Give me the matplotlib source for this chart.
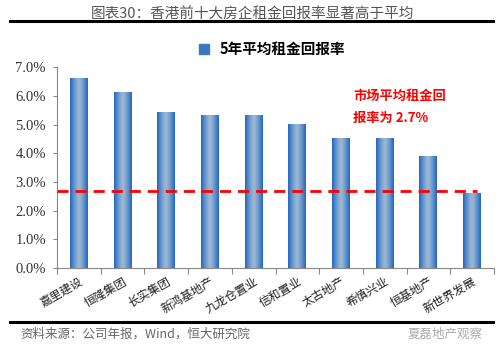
import numpy as np
import matplotlib
matplotlib.use("Agg")
from matplotlib import pyplot as plt
from matplotlib.lines import Line2D

plt.rcParams['font.family'] = ['Noto Sans CJK SC', 'DejaVu Sans']

# 数据
companies = ["嘉里建设", "恒隆集团", "长实集团", "新鸿基地产", "九龙仓置业",
             "信和置业", "太古地产", "希慎兴业", "恒基地产", "新世界发展"]
rent_yield = [6.6, 6.1, 5.4, 5.3, 5.3, 5.0, 4.5, 4.5, 3.9, 2.6]
market_avg = 2.7
yticks = [0, 1, 2, 3, 4, 5, 6, 7]

fig = plt.figure(figsize=(5, 3.55), dpi=100)
ax = fig.add_axes([0.114, 0.245, 0.874, 0.566])

x = np.arange(len(companies))
bars = ax.bar(x, rent_yield, width=0.41, color="#2e6fc0", zorder=2)

# 柱子渐变效果
grad = np.abs(np.linspace(-1, 1, 64)) ** 1.3
grad = grad.reshape(1, -1)
cmap = matplotlib.colors.LinearSegmentedColormap.from_list("g", ["#9bb8d3", "#1f66c4"])
for b in bars:
    x0, y0 = b.get_x(), b.get_y()
    w, h = b.get_width(), b.get_height()
    ax.imshow(grad, cmap=cmap, aspect="auto", extent=(x0, x0 + w, y0, y0 + h),
              zorder=3, interpolation="bicubic")

# 市场平均线
ax.plot([-0.5, 9.1], [market_avg, market_avg], color="#ff0000", lw=2,
        ls=(0, (4, 2.5)), zorder=4)
ax.text(6.28, 5.6, "市场平均租金回\n报率为 2.7%", color="#ff0000", fontsize=9.5,
        fontweight="bold", linespacing=1.75, va="center", ha="left",
        family=['Noto Sans CJK SC', 'Liberation Serif'])

ax.set_xlim(-0.5, len(companies) - 0.5)
ax.set_ylim(0, 7)
ax.set_yticks(yticks)
ax.set_yticklabels([f"{v:.1f}%" for v in yticks], family="Liberation Serif",
                   fontsize=10.5, color="#333333")
ax.set_xticks(np.arange(len(companies) + 1) - 0.5)
ax.set_xticklabels([])
ax.set_xticks(x, minor=True)
ax.set_xticklabels(companies, minor=True, rotation=30, ha="right",
                   rotation_mode="anchor", fontsize=8.5, color="#222222")
ax.tick_params(axis="x", which="minor", length=0, pad=5)
ax.tick_params(axis="x", which="major", length=4, direction="out", color="#888888")
ax.tick_params(axis="y", length=3, direction="out", color="#888888", pad=5)
for s in ["top", "right"]:
    ax.spines[s].set_visible(False)
ax.spines["left"].set_color("#888888")
ax.spines["bottom"].set_color("#888888")

# 图例
handle = Line2D([], [], marker="s", color="#3a78c2", ls="none", markersize=7)
fig.legend([handle], ["5年平均租金回报率"], loc="center", bbox_to_anchor=(0.535, 0.862),
           frameon=False, handletextpad=0.1,
           prop={"family": ['Noto Sans CJK SC'], "weight": "bold", "size": 10.5})

# 标题与来源
fig.text(0.505, 0.962, "图表30：香港前十大房企租金回报率显著高于平均", ha="center",
         va="center", fontsize=10.5, color="#555555")
fig.add_artist(Line2D([0.02, 0.986], [0.94, 0.94], color="black", lw=2.2))
fig.add_artist(Line2D([0.02, 0.986], [0.093, 0.093], color="black", lw=2.2))
fig.text(0.04, 0.058, "资料来源：公司年报，Wind，恒大研究院", ha="left", va="center",
         fontsize=9, color="#666666", style="italic")
fig.text(0.965, 0.058, "夏磊地产观察", ha="right", va="center", fontsize=9,
         color="#aaaaaa")

fig.savefig("out.png", dpi=100)
